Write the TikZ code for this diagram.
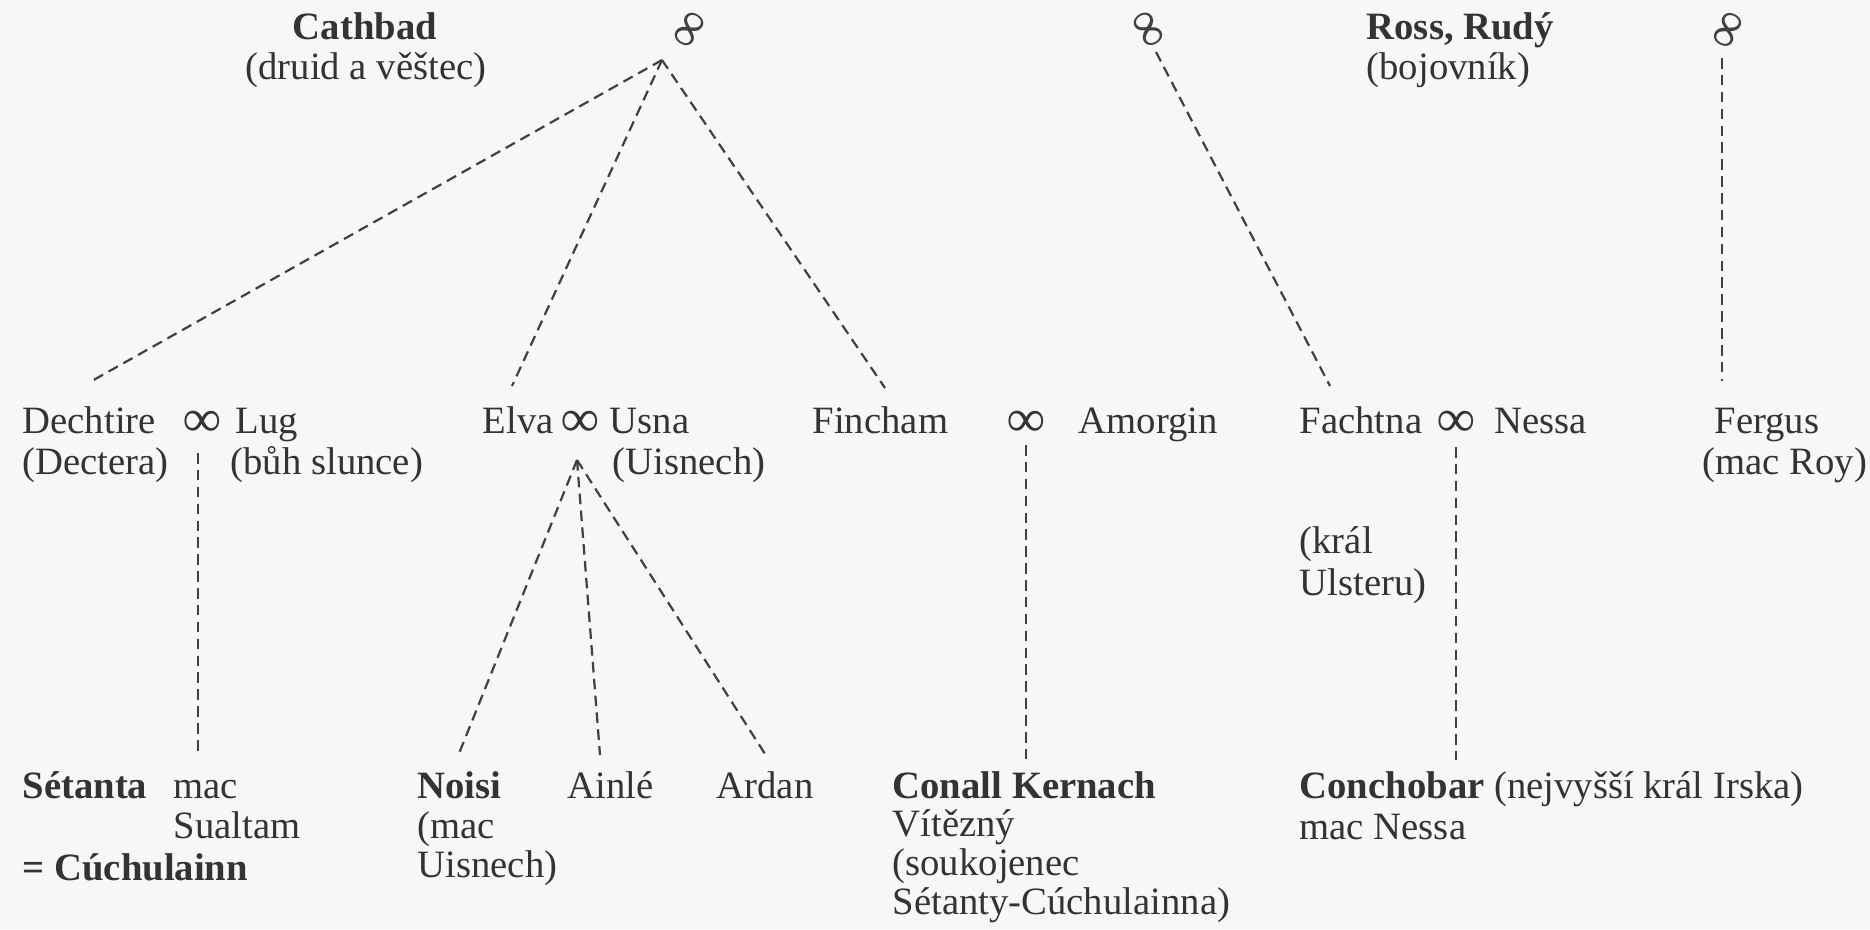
\documentclass[tikz,border=0pt]{standalone}
\usepackage{fontspec}
\setmainfont{Liberation Serif}

\begin{document}
\begin{tikzpicture}[x = 0.01cm, y = -0.01cm,
                        txt/.style = {anchor = base west, inner sep = 0pt, text = black!80, font = \fontsize{11}{13}\selectfont},
                        ringtop/.style = {inner sep = 0pt, text = black!75, font = \fontsize{15}{15}\selectfont},
                        ringmid/.style = {inner sep = 0pt, text = black!80, font = \fontsize{15}{15}\selectfont\bfseries},
                        kin/.style = {draw = black!75, line width = 0.22mm, dash pattern = on 3pt off 1.8pt}]

                        \useasboundingbox (0,0) rectangle (1870,929);
                        \fill[black!3] (0,0) rectangle (1870,929);

                        \node[txt, anchor = base] (cath) at (365,39) {\textbf{Cathbad}};
                        \node[txt, anchor = base] (cathnote) at (366,79) {(druid a věštec)};
                        \node[ringtop, rotate = 58] (ring1) at (692,31) {∞};
                        \node[ringtop, rotate = -58] (ring2) at (1146,31) {∞};
                        \node[txt] (ross) at (1366,39) {\textbf{Ross, Rudý}};
                        \node[txt] (rossnote) at (1366,79) {(bojovník)};
                        \node[ringtop, rotate = 64] (ring3) at (1730,31) {∞};

                        \node[txt] (dech) at (22,433) {Dechtire};
                        \node[ringmid] (wed1) at (202,424) {∞};
                        \node[txt] (lug) at (235,433) {Lug};
                        \node[txt] (dechnote) at (22,474) {(Dectera)};
                        \node[txt] (lugnote) at (230,474) {(bůh slunce)};

                        \node[txt] (elva) at (482,433) {Elva};
                        \node[ringmid] (wed2) at (580,424) {∞};
                        \node[txt] (usna) at (609,433) {Usna};
                        \node[txt] (usnanote) at (612,474) {(Uisnech)};

                        \node[txt] (fin) at (812,433) {Fincham};
                        \node[ringmid] (wed3) at (1026,424) {∞};
                        \node[txt] (amor) at (1078,433) {Amorgin};

                        \node[txt] (fach) at (1299,433) {Fachtna};
                        \node[ringmid] (wed4) at (1456,424) {∞};
                        \node[txt] (nessa) at (1494,433) {Nessa};
                        \node[txt] (fachnote) at (1299,553) {(král};
                        \node[txt] (fachnote2) at (1299,595) {Ulsteru)};

                        \node[txt] (ferg) at (1714,433) {Fergus};
                        \node[txt] (fergnote) at (1702,474) {(mac Roy)};

                        \node[txt] (set) at (22,798) {\textbf{Sétanta}};
                        \node[txt] (setmac) at (173,798) {mac};
                        \node[txt] (setsual) at (173,838) {Sualtam};
                        \node[txt] (cuch) at (22,880) {\textbf{= Cúchulainn}};

                        \node[txt] (noisi) at (417,798) {\textbf{Noisi}};
                        \node[txt] (noisimac) at (417,838) {(mac};
                        \node[txt] (noisiuis) at (417,877) {Uisnech)};
                        \node[txt] (ainle) at (567,798) {Ainlé};
                        \node[txt] (ardan) at (716,798) {Ardan};

                        \node[txt] (conall) at (892,798) {\textbf{Conall Kernach}};
                        \node[txt] (conall2) at (892,836) {Vítězný};
                        \node[txt] (conall3) at (892,875) {(soukojenec};
                        \node[txt] (conall4) at (892,914) {Sétanty-Cúchulainna)};

                        \node[txt] (conch) at (1299,798) {\textbf{Conchobar} (nejvyšší král Irska)};
                        \node[txt] (conchmac) at (1299,839) {mac Nessa};

                        \coordinate (cathfork) at (662,60);
                        \coordinate (dechtop) at (90,382);
                        \coordinate (elvatop) at (512,386);
                        \coordinate (fintop) at (885,388);
                        \coordinate (fachfork) at (1156,52);
                        \coordinate (fachtop) at (1330,386);
                        \coordinate (fergfork) at (1722,58);
                        \coordinate (fergtop) at (1722,381);

                        \draw[kin] (cathfork) -- (dechtop);
                        \draw[kin] (cathfork) -- (elvatop);
                        \draw[kin] (cathfork) -- (fintop);
                        \draw[kin] (fachfork) -- (fachtop);
                        \draw[kin] (fergfork) -- (fergtop);

                        \coordinate (lugfork) at (198,453);
                        \coordinate (settop) at (198,752);
                        \coordinate (elvafork) at (577,460);
                        \coordinate (noisitop) at (458,756);
                        \coordinate (ainletop) at (600,755);
                        \coordinate (ardantop) at (767,757);
                        \coordinate (finfork) at (1026,445);
                        \coordinate (conalltop) at (1026,760);
                        \coordinate (fachdown) at (1456,447);
                        \coordinate (conchtop) at (1456,760);

                        \draw[kin] (lugfork) -- (settop);
                        \draw[kin] (elvafork) -- (noisitop);
                        \draw[kin] (elvafork) -- (ainletop);
                        \draw[kin] (elvafork) -- (ardantop);
                        \draw[kin] (finfork) -- (conalltop);
                        \draw[kin] (fachdown) -- (conchtop);
                    \end{tikzpicture}
\end{document}
